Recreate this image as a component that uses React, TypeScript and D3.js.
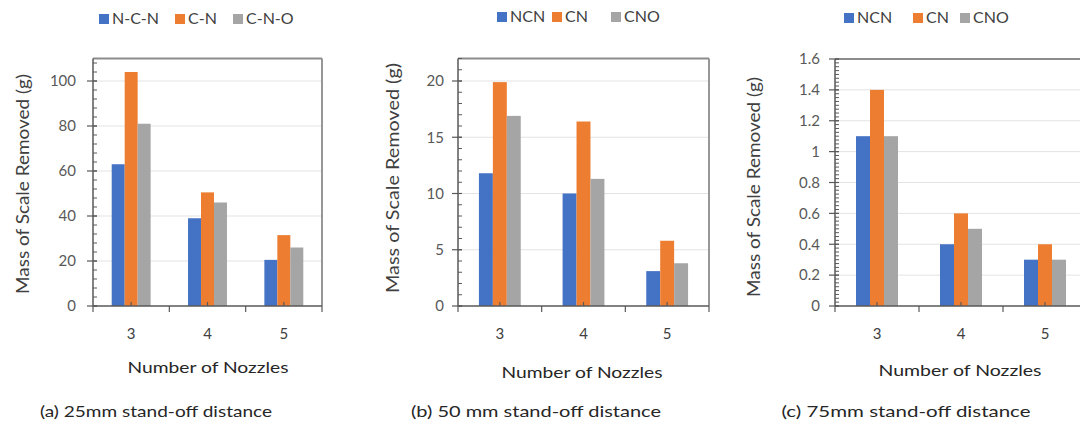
import React from "react";
import * as d3 from "d3";

const categories = ["3", "4", "5"];

const seriesNamesA = ["N-C-N", "C-N", "C-N-O"];
const seriesNamesBC = ["NCN", "CN", "CNO"];

const a_ncn = [63, 39, 20.5];
const a_cn = [104, 50.5, 31.5];
const a_cno = [81, 46, 26];

const b_ncn = [11.8, 10, 3.1];
const b_cn = [19.9, 16.4, 5.8];
const b_cno = [16.9, 11.3, 3.8];

const c_ncn = [1.1, 0.4, 0.3];
const c_cn = [1.4, 0.6, 0.4];
const c_cno = [1.1, 0.5, 0.3];

const a_ticks = [0, 20, 40, 60, 80, 100];
const b_ticks = [0, 5, 10, 15, 20];
const c_ticks = [0, 0.2, 0.4, 0.6, 0.8, 1, 1.2, 1.4, 1.6];

const captions = [
  "(a) 25mm stand-off distance",
  "(b) 50 mm stand-off distance",
  "(c) 75mm stand-off distance",
];

const COLORS = ["#4472C4", "#ED7D31", "#A5A5A5"];
const FONT = "Lato, 'Open Sans', sans-serif";

type PanelCfg = {
  names: string[];
  series: number[][];
  ticks: number[];
  max: number;
  minorStep: number;
  left: number;
  right: number;
  top: number;
  bottom: number;
  groupFrac: number;
  yLabel: string;
  yLabelX: number;
  yLabelY: number;
  yLabelLen: number;
  tickLabelX: number;
  legendX: number[];
  legendY: number;
  legendFont: number;
  xTitleY: number;
  xTitleX: number;
  xTitleLen: number;
  caption: string;
  captionX: number;
  captionLen: number;
};

function Panel({ cfg }: { cfg: PanelCfg }) {
  const x0 = d3.scaleBand<string>().domain(categories).range([cfg.left, cfg.right]).paddingInner(0).paddingOuter(0);
  const bw = x0.bandwidth();
  const gw = bw * cfg.groupFrac;
  const x1 = d3.scaleBand<string>().domain(cfg.names).range([(bw - gw) / 2, (bw + gw) / 2]);
  const y = d3.scaleLinear().domain([0, cfg.max]).range([cfg.bottom, cfg.top]);
  const minor = d3.range(0, cfg.max + cfg.minorStep / 2, cfg.minorStep);
  const boundaries = categories.map((c) => x0(c)!).concat([cfg.right]);
  const fmt = (v: number) => String(+v.toFixed(2));
  return (
    <g>
      {/* gridlines */}
      {cfg.ticks.filter((t) => t > 0 && t < cfg.max).map((t) => (
        <line key={"g" + t} x1={cfg.left} x2={cfg.right} y1={y(t)} y2={y(t)} stroke="#e3e3e3" strokeWidth={1} />
      ))}
      {/* bars */}
      {cfg.series.map((vals, si) =>
        vals.map((v, ci) => (
          <rect
            key={"b" + si + "-" + ci}
            x={x0(categories[ci])! + x1(cfg.names[si])!}
            y={y(v)}
            width={x1.bandwidth()}
            height={y(0) - y(v)}
            fill={COLORS[si]}
          />
        ))
      )}
      {/* plot frame top/right */}
      <line x1={cfg.left} x2={cfg.right} y1={cfg.top} y2={cfg.top} stroke="#8c8c8c" strokeWidth={1.8} />
      <line x1={cfg.right} x2={cfg.right} y1={cfg.top} y2={cfg.bottom} stroke="#8c8c8c" strokeWidth={1.8} />
      {/* y axis */}
      <line x1={cfg.left} x2={cfg.left} y1={cfg.top} y2={cfg.bottom} stroke="#595959" strokeWidth={1.5} />
      {minor.map((t, i) => (
        <line key={"m" + i} x1={cfg.left} x2={cfg.left + 4} y1={y(t)} y2={y(t)} stroke="#595959" strokeWidth={1} />
      ))}
      {cfg.ticks.map((t) => (
        <line key={"M" + t} x1={cfg.left - 6} x2={cfg.left + 4} y1={y(t)} y2={y(t)} stroke="#595959" strokeWidth={1.2} />
      ))}
      {cfg.ticks.map((t) => (
        <text key={"l" + t} x={cfg.tickLabelX} y={y(t)} dy="0.35em" textAnchor="end" fontSize={15} fill="#595959" fontFamily={FONT}>
          {fmt(t)}
        </text>
      ))}
      {/* x axis */}
      <line x1={cfg.left} x2={cfg.right} y1={cfg.bottom} y2={cfg.bottom} stroke="#595959" strokeWidth={1.5} />
      {boundaries.map((bx, i) => (
        <line key={"xb" + i} x1={bx} x2={bx} y1={cfg.bottom} y2={cfg.bottom + 6} stroke="#595959" strokeWidth={1.2} />
      ))}
      {categories.map((c) => (
        <line key={"xm" + c} x1={x0(c)! + bw / 2} x2={x0(c)! + bw / 2} y1={cfg.bottom} y2={cfg.bottom - 4} stroke="#595959" strokeWidth={1.2} />
      ))}
      {categories.map((c) => (
        <text key={"xl" + c} x={x0(c)! + bw / 2} y={339} textAnchor="middle" fontSize={15} fill="#404040" fontFamily={FONT}>
          {c}
        </text>
      ))}
      {/* y label */}
      <text
        transform={`translate(${cfg.yLabelX},${cfg.yLabelY}) rotate(-90)`}
        textAnchor="middle"
        fontSize={17}
        fill="#404040"
        fontFamily={FONT}
        textLength={cfg.yLabelLen}
        lengthAdjust="spacingAndGlyphs"
      >
        {cfg.yLabel}
      </text>
      {/* legend */}
      {cfg.names.map((n, i) => (
        <g key={"lg" + n}>
          <rect x={cfg.legendX[i]} y={cfg.legendY - 10} width={10} height={10} fill={COLORS[i]} />
          <text x={cfg.legendX[i] + 13} y={cfg.legendY} fontSize={cfg.legendFont} fill="#404040" fontFamily={FONT}>
            {n}
          </text>
        </g>
      ))}
      {/* x title */}
      <text x={cfg.xTitleX} y={cfg.xTitleY} textAnchor="middle" fontSize={16} fill="#262626" fontFamily={FONT} textLength={cfg.xTitleLen} lengthAdjust="spacingAndGlyphs">
        Number of Nozzles
      </text>
      {/* caption */}
      <text x={cfg.captionX} y={417} textAnchor="middle" fontSize={16} fill="#262626" fontFamily={FONT} textLength={cfg.captionLen} lengthAdjust="spacingAndGlyphs">
        {cfg.caption}
      </text>
    </g>
  );
}

const panels: PanelCfg[] = [
  {
    names: seriesNamesA,
    series: [a_ncn, a_cn, a_cno],
    ticks: a_ticks,
    max: 110,
    minorStep: 4,
    left: 93,
    right: 322,
    top: 58.5,
    bottom: 306,
    groupFrac: 0.51,
    yLabel: "Mass of Scale Removed  (g)",
    yLabelX: 29,
    yLabelY: 184,
    yLabelLen: 220,
    tickLabelX: 76,
    legendX: [99, 175, 233],
    legendY: 24,
    legendFont: 16,
    xTitleX: 208,
    xTitleY: 373,
    xTitleLen: 161,
    caption: captions[0],
    captionX: 156,
    captionLen: 232,
  },
  {
    names: seriesNamesBC,
    series: [b_ncn, b_cn, b_cno],
    ticks: b_ticks,
    max: 22,
    minorStep: 1,
    left: 458,
    right: 709,
    top: 58.5,
    bottom: 306,
    groupFrac: 0.5,
    yLabel: "Mass of Scale Removed (g)",
    yLabelX: 399,
    yLabelY: 178,
    yLabelLen: 230,
    tickLabelX: 444,
    legendX: [497, 552, 611],
    legendY: 22,
    legendFont: 16,
    xTitleX: 582,
    xTitleY: 378,
    xTitleLen: 161,
    caption: captions[1],
    captionX: 536,
    captionLen: 250,
  },
  {
    names: seriesNamesBC,
    series: [c_ncn, c_cn, c_cno],
    ticks: c_ticks,
    max: 1.6,
    minorStep: 0.025,
    left: 835,
    right: 1087,
    top: 59,
    bottom: 306,
    groupFrac: 0.5,
    yLabel: "Mass of Scale Removed (g)",
    yLabelX: 760,
    yLabelY: 187,
    yLabelLen: 220,
    tickLabelX: 820,
    legendX: [844, 913, 960],
    legendY: 23,
    legendFont: 16,
    xTitleX: 960,
    xTitleY: 376,
    xTitleLen: 163,
    caption: captions[2],
    captionX: 906,
    captionLen: 249,
  },
];

export default function App() {
  return (
    <svg
      width={1080}
      height={425}
      viewBox="0 0 1080 425"
      style={{ position: "absolute", left: 0, top: 0, background: "#fff", display: "block" }}
    >
      <rect x={0} y={0} width={1080} height={425} fill="#fff" />
      {panels.map((p, i) => (
        <Panel key={i} cfg={p} />
      ))}
    </svg>
  );
}
